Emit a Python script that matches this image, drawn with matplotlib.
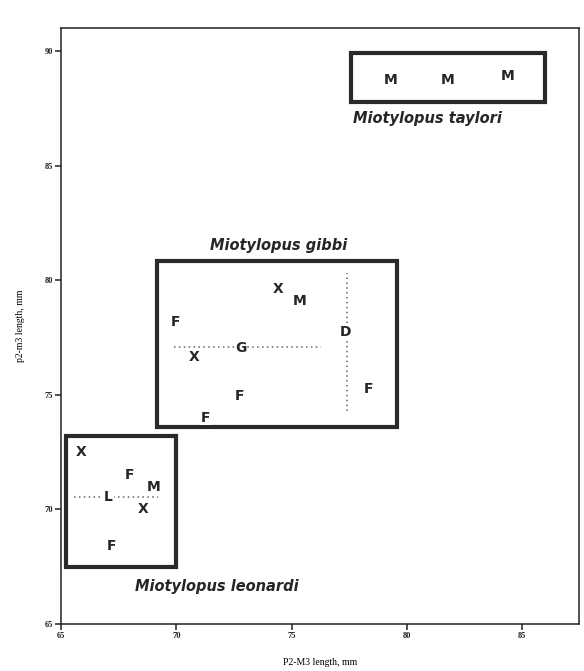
import matplotlib
matplotlib.use("Agg")
import matplotlib.pyplot as plt
from matplotlib.patches import Rectangle

# specimen letters: P2-M3 length (x), p2-m3 length (y)
leonardi_lab = ["X", "F", "M", "L", "X", "F"]
leonardi_x = [65.85, 67.95, 69.0, 67.05, 68.55, 67.2]
leonardi_y = [72.5, 71.5, 71.0, 70.55, 70.0, 68.4]

gibbi_lab = ["X", "M", "F", "D", "G", "X", "F", "F", "F"]
gibbi_x = [74.4, 75.35, 69.95, 77.35, 72.8, 70.75, 72.75, 71.25, 78.35]
gibbi_y = [79.6, 79.1, 78.2, 77.75, 77.05, 76.65, 74.95, 74.0, 75.25]

taylori_lab = ["M", "M", "M"]
taylori_x = [79.3, 81.8, 84.4]
taylori_y = [88.75, 88.75, 88.9]

# ranges enclosing each species (x0, x1, y0, y1)
leonardi_box = [65.2, 70.0, 67.5, 73.2]
gibbi_box = [69.15, 79.6, 73.6, 80.85]
taylori_box = [77.6, 86.0, 87.8, 89.9]

# dotted range lines
leonardi_hline = [65.55, 69.2, 70.55]
gibbi_hline = [69.9, 76.3, 77.1]
gibbi_vline = [77.4, 74.3, 80.3]

species = ["Miotylopus leonardi", "Miotylopus gibbi", "Miotylopus taylori"]
species_xy = [(71.75, 66.65), (74.45, 81.5), (80.9, 87.05)]

xticks = [65, 70, 75, 80, 85]
yticks = [65, 70, 75, 80, 85, 90]

fig = plt.figure(figsize=(5.84, 6.71), dpi=100)
ax = fig.add_axes([0.105, 0.07, 0.887, 0.888])
ax.set_xlim(65, 87.5)
ax.set_ylim(65, 91)

for s in ax.spines.values():
    s.set_linewidth(1.1)
    s.set_color("#222222")

ax.set_xticks(xticks)
ax.set_yticks(yticks)
ax.set_xticklabels([str(t) for t in xticks], fontsize=6, family="Liberation Serif", fontweight="bold")
ax.set_yticklabels([str(t) for t in yticks], fontsize=6, family="Liberation Serif", fontweight="bold")
ax.tick_params(direction="out", length=4, width=1.1, pad=2, colors="#222222")

ax.set_xlabel("P2-M3 length, mm", fontsize=7, family="Liberation Serif", labelpad=13)
ax.set_ylabel("p2-m3 length, mm", fontsize=7, family="Liberation Serif", labelpad=14)

for b in [leonardi_box, gibbi_box, taylori_box]:
    ax.add_patch(Rectangle((b[0], b[2]), b[1] - b[0], b[3] - b[2],
                           fill=False, lw=3, edgecolor="#2a2a2a", zorder=2))

dot = dict(color="#666666", lw=1.1, linestyle=(0, (1, 2.2)), zorder=1)
ax.plot([leonardi_hline[0], leonardi_hline[1]], [leonardi_hline[2]] * 2, **dot)
ax.plot([gibbi_hline[0], gibbi_hline[1]], [gibbi_hline[2]] * 2, **dot)
ax.plot([gibbi_vline[0]] * 2, [gibbi_vline[1], gibbi_vline[2]], **dot)

letter_style = dict(ha="center", va="center", fontsize=10, fontweight="bold",
                    family="DejaVu Sans", color="#262626", zorder=3)
for labs, xs, ys in [(leonardi_lab, leonardi_x, leonardi_y),
                     (gibbi_lab, gibbi_x, gibbi_y),
                     (taylori_lab, taylori_x, taylori_y)]:
    for lab, x, y in zip(labs, xs, ys):
        ax.text(x, y, lab, bbox=dict(fc="white", ec="none", pad=0.5), **letter_style)

for name, (x, y) in zip(species, species_xy):
    ax.text(x, y, name, ha="center", va="center", fontsize=10.5, fontweight="bold",
            fontstyle="italic", family="DejaVu Sans", color="#262626")

fig.savefig("out.png", dpi=100)
